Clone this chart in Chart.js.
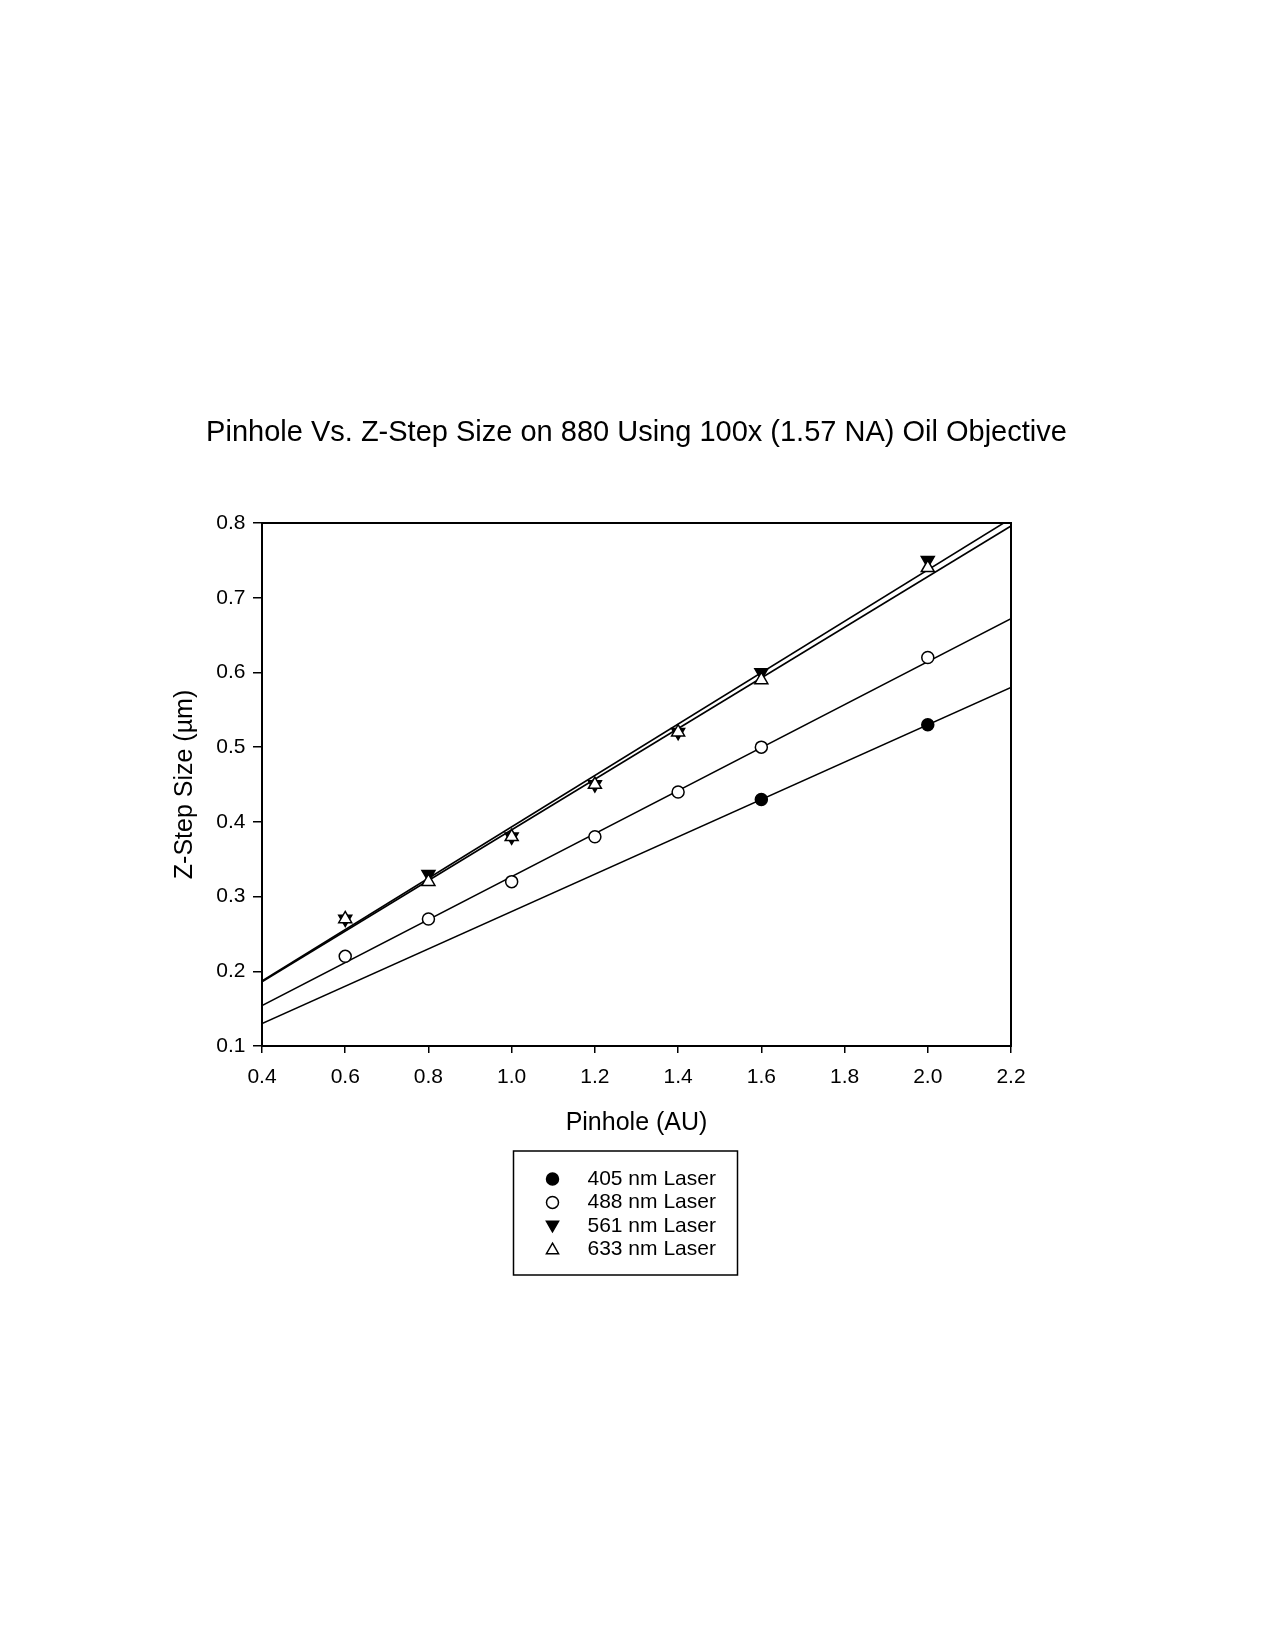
<!DOCTYPE html>
<html>
<head>
<meta charset="utf-8">
<script src="https://cdn.jsdelivr.net/npm/chart.js@4.4.0/dist/chart.umd.min.js"></script>
<style>
  html, body { margin: 0; padding: 0; background: #fff; }
  #wrap { width: 1274px; height: 1646px; }
</style>
</head>
<body>
<div id="wrap"><canvas id="chart"></canvas></div>
<script>
const pinhole = [0.6, 0.8, 1.0, 1.2, 1.4, 1.6, 2.0];
const pinhole405 = [1.6, 2.0];
const step405 = [0.43, 0.53];
const step488 = [0.22, 0.27, 0.32, 0.38, 0.44, 0.50, 0.62];
const step561 = [0.27, 0.33, 0.38, 0.45, 0.52, 0.60, 0.75];
const step633 = [0.27, 0.32, 0.38, 0.45, 0.52, 0.59, 0.74];

const fitRange = [0.4, 2.2];
const fit405 = [0.13, 0.58];
const fit488 = [0.154, 0.672];
const fit561 = [0.187, 0.806];
const fit633 = [0.186, 0.796];

const xTicks = [0.4, 0.6, 0.8, 1.0, 1.2, 1.4, 1.6, 1.8, 2.0, 2.2];
const yTicks = [0.1, 0.2, 0.3, 0.4, 0.5, 0.6, 0.7, 0.8];
const legendLabels = ['405 nm Laser', '488 nm Laser', '561 nm Laser', '633 nm Laser'];
const titleText = 'Pinhole Vs. Z-Step Size on 880 Using 100x (1.57 NA) Oil Objective';

const FONT = "'Liberation Sans', Arial, sans-serif";

const toXY = (xs, ys) => xs.map((x, i) => ({ x: x, y: ys[i] }));

const marker = (label, xs, ys, style, fill, radius, rotation) => ({
  label: label,
  data: toXY(xs, ys),
  showLine: false,
  pointStyle: style,
  pointRadius: radius,
  pointHoverRadius: radius,
  pointRotation: rotation || 0,
  pointBackgroundColor: fill,
  pointBorderColor: '#000',
  pointBorderWidth: 1.5,
});

const fitLine = (ys) => ({
  label: 'fit',
  data: toXY(fitRange, ys),
  showLine: true,
  borderColor: '#000',
  borderWidth: 1.6,
  pointRadius: 0,
  fill: false,
  tension: 0,
});

// first dataset ends up on top, so the open triangles go first
const datasets = [
  marker(legendLabels[3], pinhole, step633, 'triangle', '#fff', 7.5, 0),
  marker(legendLabels[2], pinhole, step561, 'triangle', '#000', 7.5, 180),
  marker(legendLabels[1], pinhole, step488, 'circle', '#fff', 6, 0),
  marker(legendLabels[0], pinhole405, step405, 'circle', '#000', 6, 0),
  fitLine(fit633),
  fitLine(fit561),
  fitLine(fit488),
  fitLine(fit405),
];

// title centred over the plot, drawn without Chart.js squeezing it to the plot width
const titlePlugin = {
  id: 'plotTitle',
  afterDraw(chart) {
    const { ctx, chartArea: a } = chart;
    ctx.save();
    ctx.fillStyle = '#000';
    ctx.font = '29px ' + FONT;
    ctx.textAlign = 'center';
    ctx.textBaseline = 'middle';
    ctx.fillText(titleText, (a.left + a.right) / 2, a.top - 90);
    ctx.restore();
  }
};

const framePlugin = {
  id: 'frame',
  afterDraw(chart) {
    const { ctx, chartArea: a } = chart;
    ctx.save();
    ctx.strokeStyle = '#000';
    ctx.lineWidth = 2;
    ctx.strokeRect(a.left, a.top, a.right - a.left, a.bottom - a.top);
    ctx.restore();
  }
};

const legendPlugin = {
  id: 'legendBox',
  afterDraw(chart) {
    const { ctx, chartArea: a } = chart;
    const boxW = 224, boxH = 124;
    const left = (a.left + a.right) / 2 - 123;
    const top = a.bottom + 105;
    ctx.save();
    ctx.strokeStyle = '#000';
    ctx.lineWidth = 1.5;
    ctx.strokeRect(left, top, boxW, boxH);
    const order = [3, 2, 1, 0];
    ctx.font = '21px ' + FONT;
    ctx.textBaseline = 'middle';
    ctx.textAlign = 'left';
    order.forEach((di, row) => {
      const ds = chart.data.datasets[di];
      const y = top + 28 + row * 23.4;
      ctx.fillStyle = ds.pointBackgroundColor;
      ctx.strokeStyle = '#000';
      ctx.lineWidth = 1.5;
      Chart.helpers.drawPoint(ctx, {
        pointStyle: ds.pointStyle,
        rotation: ds.pointRotation,
        radius: ds.pointStyle === 'circle' ? 6 : 7,
        borderWidth: 1.5,
      }, left + 39, ds.pointStyle === 'triangle' ? y + (ds.pointRotation ? -1 : 1) : y);
      ctx.fillStyle = '#000';
      ctx.fillText(legendLabels[row], left + 74, y);
    });
    ctx.restore();
  }
};

new Chart(document.getElementById('chart'), {
  type: 'scatter',
  data: { datasets: datasets },
  options: {
    responsive: true,
    maintainAspectRatio: false,
    animation: false,
    events: [],
    layout: { padding: { left: 150, right: 263, top: 523, bottom: 508.2 } },
    plugins: {
      legend: { display: false },
      tooltip: { enabled: false },
      title: { display: false },
    },
    scales: {
      x: {
        type: 'linear',
        min: 0.4,
        max: 2.2,
        afterBuildTicks: (s) => { s.ticks = xTicks.map(v => ({ value: v })); },
        afterFit: (s) => { s.height = 91.8; },
        ticks: {
          color: '#000',
          padding: 12,
          font: { family: FONT, size: 21 },
          callback: (v) => v.toFixed(1),
          maxRotation: 0,
        },
        grid: { drawOnChartArea: false, drawTicks: true, tickLength: 7, color: '#000', lineWidth: 1.5 },
        border: { display: false },
        title: {
          display: true,
          text: 'Pinhole (AU)',
          color: '#000',
          font: { family: FONT, size: 25 },
          padding: { top: 0, bottom: 0 },
        },
      },
      y: {
        type: 'linear',
        min: 0.1,
        max: 0.8,
        afterBuildTicks: (s) => { s.ticks = yTicks.map(v => ({ value: v })); },
        afterFit: (s) => { s.width = 112; },
        ticks: {
          color: '#000',
          padding: 7.5,
          font: { family: FONT, size: 21 },
          callback: (v) => v.toFixed(1),
        },
        grid: { drawOnChartArea: false, drawTicks: true, tickLength: 9, color: '#000', lineWidth: 1.5 },
        border: { display: false },
        title: {
          display: true,
          text: 'Z-Step Size (\u00b5m)',
          color: '#000',
          font: { family: FONT, size: 25 },
          padding: { top: 20.6, bottom: 0 },
        },
      },
    },
  },
  plugins: [titlePlugin, framePlugin, legendPlugin],
});
</script>
</body>
</html>
